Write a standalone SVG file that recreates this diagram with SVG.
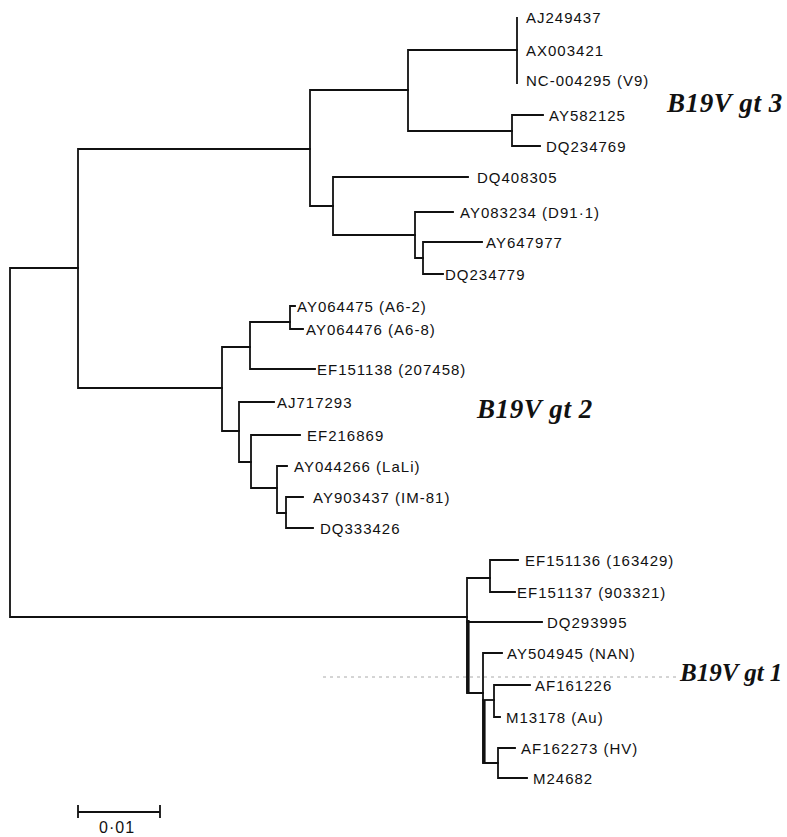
<svg xmlns="http://www.w3.org/2000/svg" width="787" height="837" viewBox="0 0 787 837">
<style>
.e{fill:none;stroke:#111;stroke-width:1.8;stroke-linecap:square}
.t{stroke:#111;stroke-width:3.2;fill:none}
.l{font-family:"Liberation Sans",Arial,sans-serif;font-size:15px;letter-spacing:1px;fill:#111}
.c{font-family:"Liberation Serif","Times New Roman",serif;font-size:27px;font-weight:bold;font-style:italic;letter-spacing:0.6px;fill:#111}
.d{fill:none;stroke:#aaa;stroke-width:1;stroke-dasharray:3 4}
</style>
<rect width="787" height="837" fill="#fff"/>
<g id="connectors">
<path class="e" d="M78,268 H10 V617 H467"/>
<path class="e" d="M310,149 H78 V388 H222"/>
<path class="e" d="M408,90 H310 V206 H333"/>
<path class="e" d="M517,50 H408 V131 H512"/>
<path class="e" d="M517,18 V83"/>
<path class="e" d="M543,115 H512 V146 H540"/>
<path class="e" d="M468,177 H333 V235 H415"/>
<path class="e" d="M453,212 H415 V258 H423"/>
<path class="e" d="M482,242 H423 V274 H443"/>
<path class="e" d="M250,347 H222 V431 H239"/>
<path class="e" d="M290,322 H250 V369 H315"/>
<path class="e" d="M295,306 H290 V329 H303"/>
<path class="e" d="M274,402 H239 V462 H251"/>
<path class="e" d="M300,435 H251 V488 H277"/>
<path class="e" d="M287,466 H277 V513 H286"/>
<path class="e" d="M303,497 H286 V528 H313"/>
<path class="e" d="M490,578 H467 V693 H483"/>
<path class="e" d="M467,622 H542"/>
<path class="e" d="M518,560 H490 V592 H515"/>
<path class="e" d="M502,653 H483 V763 H498"/>
<path class="e" d="M483,700 H494"/>
<path class="e" d="M530,685 H494 V717 H500"/>
<path class="e" d="M515,748 H498 V778 H527"/>
<path class="t" d="M468,620 V693"/>
<path class="t" d="M484,700 V763"/>
<path class="d" d="M323,677 H676"/>
<path class="e" d="M78,812 H160 M78,806 V817 M160,806 V817"/>
</g>
<g id="n-AJ249437"><text class="l" x="526" y="23">AJ249437</text></g>
<g id="n-AX003421"><text class="l" x="526" y="55.5">AX003421</text></g>
<g id="n-NC004295"><text class="l" x="526" y="85.5">NC-004295 (V9)</text></g>
<g id="n-AY582125"><text class="l" x="549" y="120.5">AY582125</text></g>
<g id="n-DQ234769"><text class="l" x="546" y="151.5">DQ234769</text></g>
<g id="n-DQ408305"><text class="l" x="477" y="182.5">DQ408305</text></g>
<g id="n-AY083234"><text class="l" x="460" y="217.5">AY083234 (D91·1)</text></g>
<g id="n-AY647977"><text class="l" x="486" y="247.5">AY647977</text></g>
<g id="n-DQ234779"><text class="l" x="445" y="279.5">DQ234779</text></g>
<g id="n-AY064475"><text class="l" x="297" y="311.5">AY064475 (A6-2)</text></g>
<g id="n-AY064476"><text class="l" x="306" y="334.5">AY064476 (A6-8)</text></g>
<g id="n-EF151138"><text class="l" x="317" y="374.5">EF151138 (207458)</text></g>
<g id="n-AJ717293"><text class="l" x="277" y="407.5">AJ717293</text></g>
<g id="n-EF216869"><text class="l" x="307" y="440.5">EF216869</text></g>
<g id="n-AY044266"><text class="l" x="294" y="471.5">AY044266 (LaLi)</text></g>
<g id="n-AY903437"><text class="l" x="313" y="502.5">AY903437 (IM-81)</text></g>
<g id="n-DQ333426"><text class="l" x="320" y="533.5">DQ333426</text></g>
<g id="n-EF151136"><text class="l" x="525" y="565.5">EF151136 (163429)</text></g>
<g id="n-EF151137"><text class="l" x="517" y="597.5">EF151137 (903321)</text></g>
<g id="n-DQ293995"><text class="l" x="547" y="627.5">DQ293995</text></g>
<g id="n-AY504945"><text class="l" x="507" y="658.5">AY504945 (NAN)</text></g>
<g id="n-AF161226"><text class="l" x="535" y="690.5">AF161226</text></g>
<g id="n-M13178"><text class="l" x="506" y="722.5">M13178 (Au)</text></g>
<g id="n-AF162273"><text class="l" x="521" y="753.5">AF162273 (HV)</text></g>
<g id="n-M24682"><text class="l" x="533" y="783.5">M24682</text></g>
<g id="clade-gt3"><text class="c" x="667" y="112">B19V gt 3</text></g>
<g id="clade-gt2"><text class="c" x="477" y="418">B19V gt 2</text></g>
<g id="clade-gt1"><text class="c" x="680" y="681" style="font-size:25px;letter-spacing:0">B19V gt 1</text></g>
<g id="scale"><text class="l" x="99" y="833" style="font-size:16px">0·01</text></g>
</svg>
